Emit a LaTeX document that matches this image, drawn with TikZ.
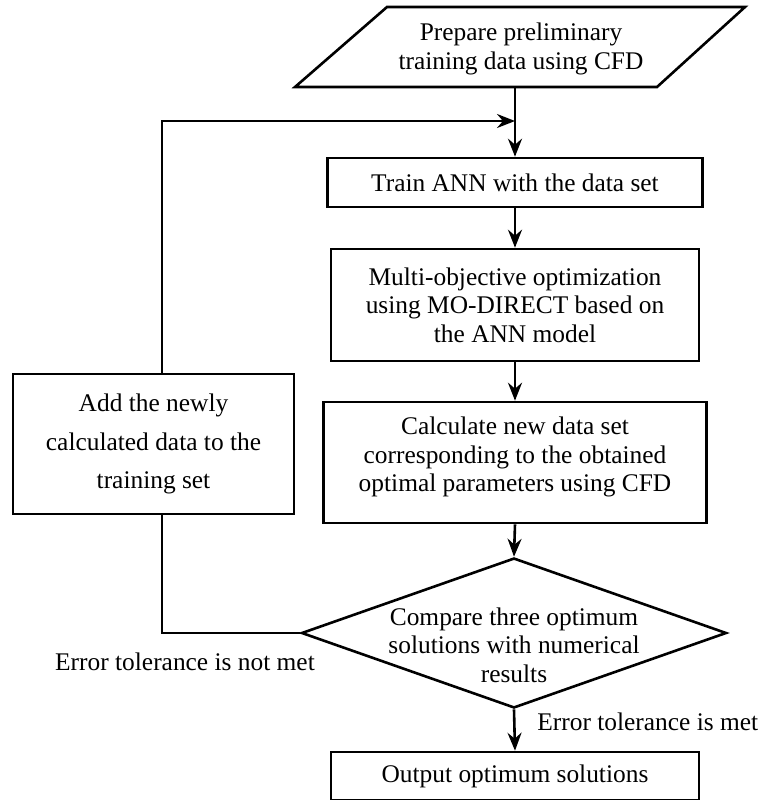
\documentclass[tikz,border=0pt]{standalone}
\usepackage{fontspec}
\setmainfont{Liberation Serif}
\usetikzlibrary{arrows.meta,shapes.geometric}
\begin{document}
\begin{tikzpicture}[x=0.5pt,y=-0.5pt,
  every node/.style={font=\fontsize{12.7pt}{14.2pt}\selectfont},
  ln/.style={line width=1.3pt},
  box/.style={draw,line width=1.3pt,align=center,inner sep=0pt},
  arr/.style={line width=1.3pt,-{Stealth[length=9pt,width=7pt,inset=3pt]}},
  lbl/.style={inner sep=0pt}]
\useasboundingbox (0,0) rectangle (763,800);
% parallelogram
\draw[ln,line join=miter] (387,7) -- (745,7) -- (657,87) -- (295,87) -- cycle;
\node[align=center,inner sep=0pt] (prep) at (521,49) {Prepare preliminary\\training data using CFD};
\coordinate (prepb) at (515,87);
\node[box,minimum width=187.5pt,minimum height=24.5pt] (train) at (515,182.5) {Train ANN with the data set};
\node[box,minimum width=184pt,minimum height=56pt] (multi) at (515,305) {Multi-objective optimization\\using MO-DIRECT based on\\the ANN model};
\node[box,minimum width=191.5pt,minimum height=60.5pt] (calc) at (515,462.5) {};
\node[align=center,inner sep=0pt] (calctext) at (515,457) {Calculate new data set\\corresponding to the obtained\\optimal parameters using CFD};
\node[box,minimum width=140.5pt,minimum height=70pt,font=\fontsize{12.7pt}{19.2pt}\selectfont] (add) at (153.5,444) {Add the newly\\calculated data to the\\training set};
\node[draw,diamond,line width=1.3pt,minimum width=212.5pt,minimum height=75pt,inner sep=0pt] (cmp) at (514,633) {};
\node[align=center,inner sep=0pt] (cmptext) at (514,645) {Compare three optimum\\solutions with numerical\\results};
\node[box,minimum width=184pt,minimum height=24pt] (out) at (515,776) {Output optimum solutions};
\coordinate (fbx) at (162,121);
% connectors
\draw[arr] (prepb) -- (train.north);
\draw[arr] (fbx |- add.north) -- (fbx) -- (fbx -| train.north);
\draw[arr] (train.south) -- (multi.north);
\draw[arr] (multi.south) -- (calc.north);
\draw[arr] (calc.south) -- (cmp.north);
\draw[ln] (fbx |- add.south) -- (fbx |- cmp.west) -- (cmp.west);
\draw[arr] (cmp.south) -- (out.north);
\node[lbl] (notmet) at (185,662) {Error tolerance is not met};
\node[lbl,anchor=west] (met) at (537,722) {Error tolerance is met};
\end{tikzpicture}
\end{document}
